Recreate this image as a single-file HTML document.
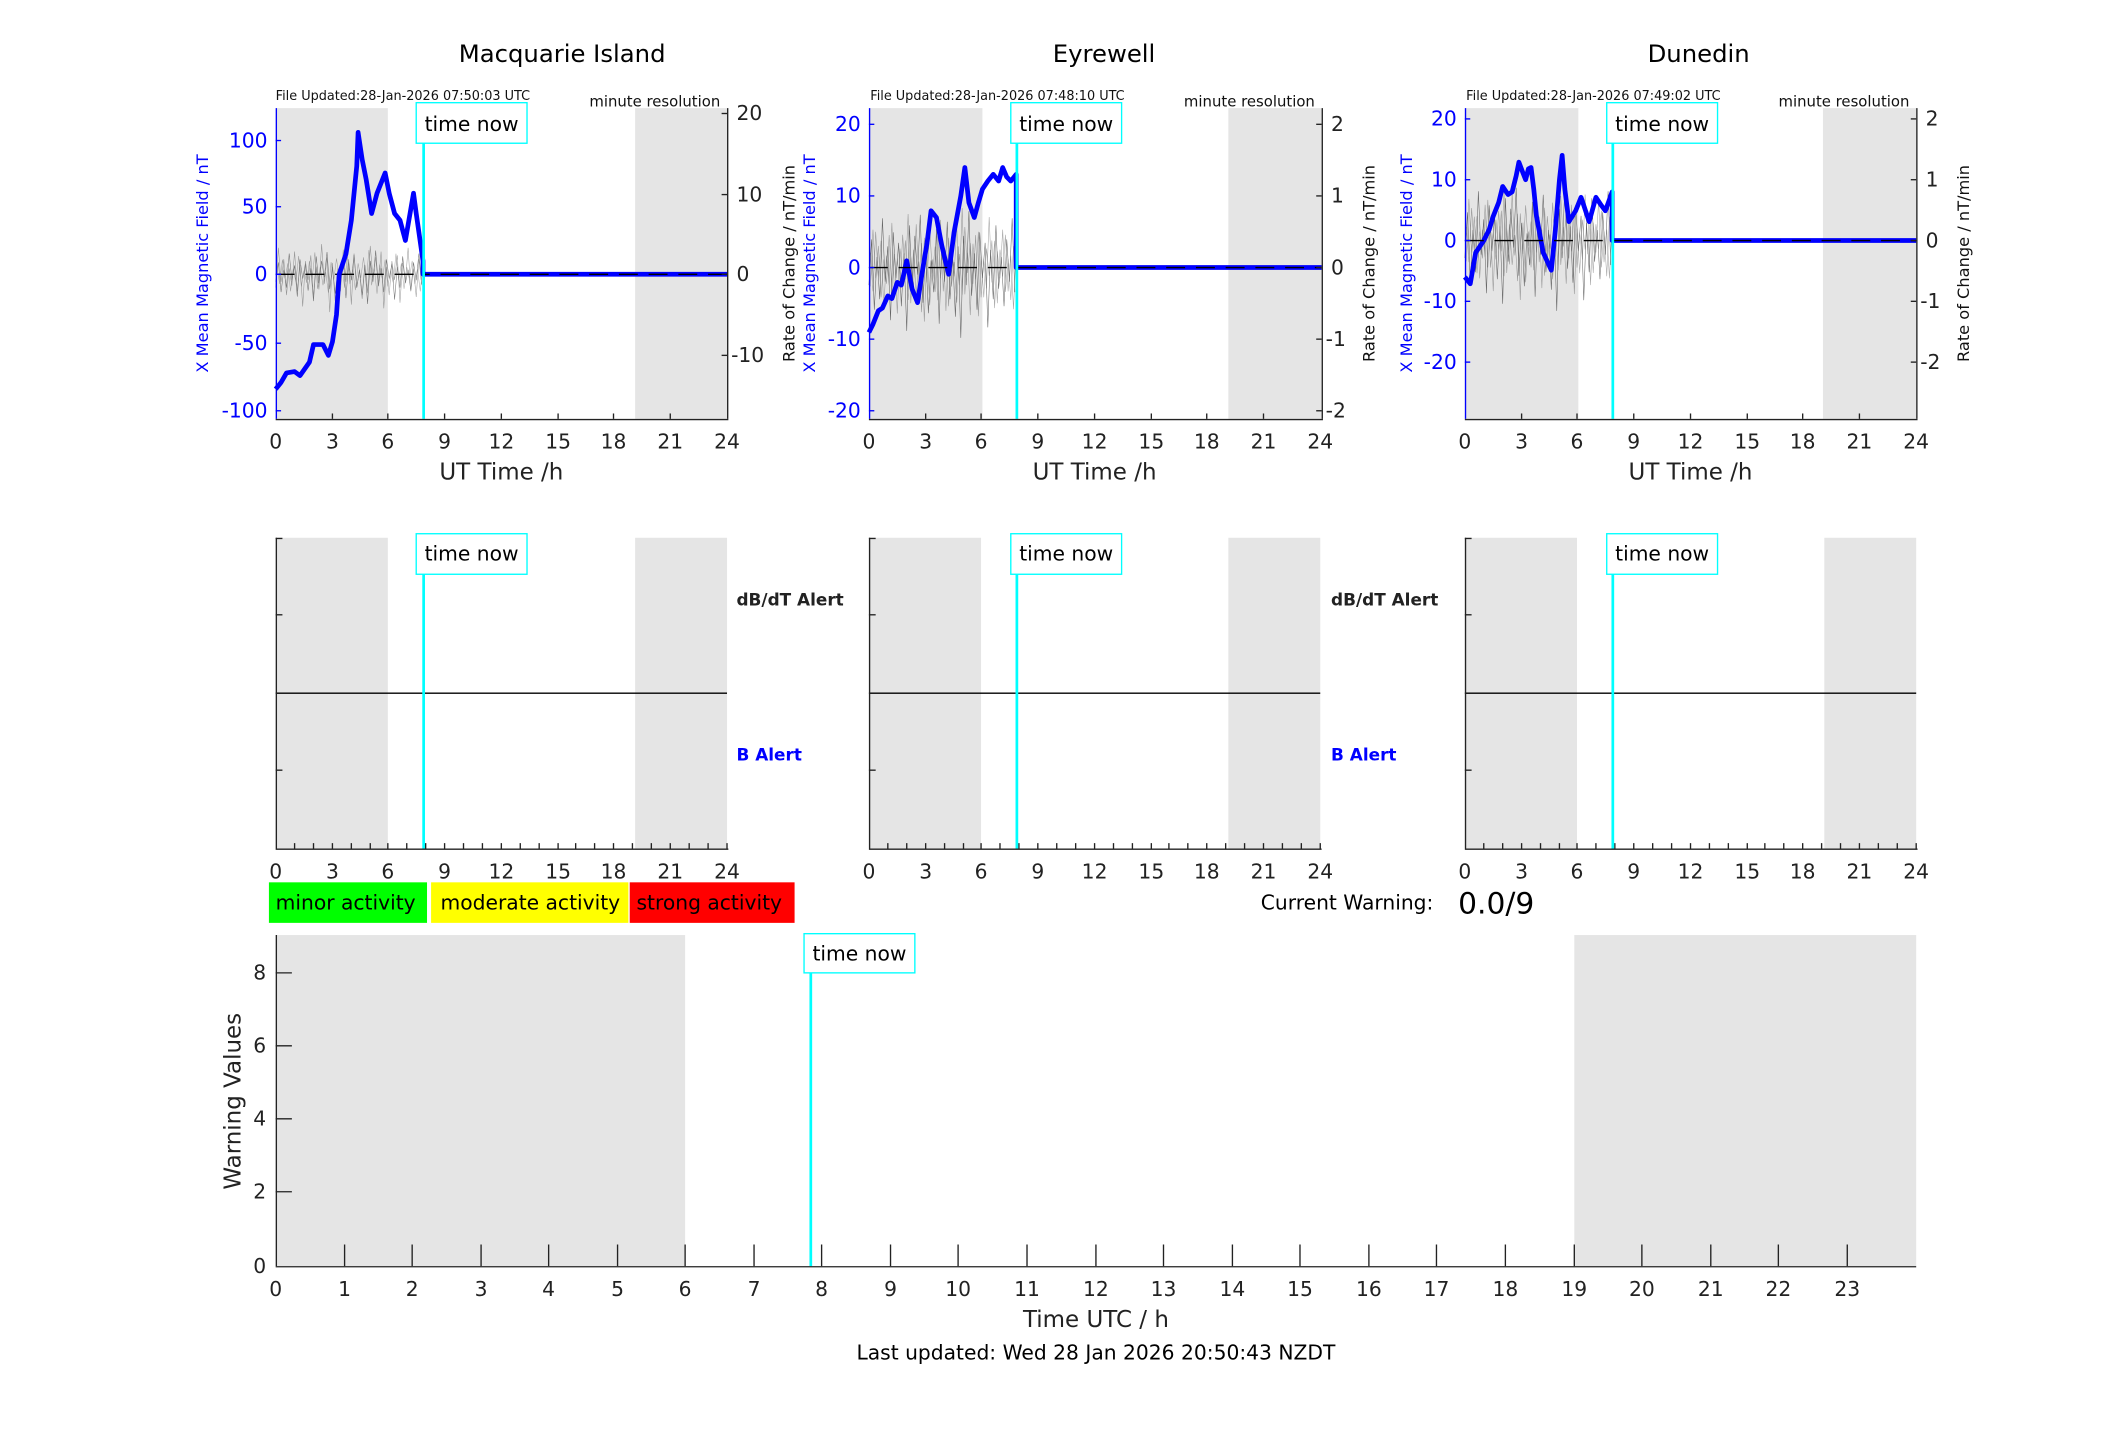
<!DOCTYPE html>
<html><head><meta charset="utf-8"><style>
html,body{margin:0;padding:0;background:#fff;}
svg{display:block;}
text{font-family:"DejaVu Sans","Liberation Sans",sans-serif;}
</style></head><body>
<svg width="2117" height="1437" viewBox="0 0 1566.6 1063.5" preserveAspectRatio="none" xmlns="http://www.w3.org/2000/svg">
<defs>
<polyline id="nz" fill="none" points="0,5 2,-8 4,12 6,-3 8,9 10,-14 12,4 14,-6 16,15 18,-10 20,3 22,-7 24,11 26,-4 28,18 30,-12 32,6 34,-9 36,2 38,-15 40,10 42,-5 44,13 46,-2 48,7 50,-11 52,16 54,-8 56,4 58,-13 60,9 62,-3 64,14 66,-6 68,20 70,-9 72,5 74,-16 76,8 78,-4 80,12 82,-10 84,3 86,-7 88,17 90,-5 92,9 94,-12 96,6 98,-3 100,11 102,-8 104,4 106,-14 108,7"/>
</defs>

<!-- Macquarie -->
<g>
<text x="416" y="46" font-size="18" text-anchor="middle">Macquarie Island</text>
<rect x="204" y="80" width="83" height="230" fill="#e5e5e5"/>
<rect x="470" y="80" width="68" height="230" fill="#e5e5e5"/>
<g stroke="#555" stroke-width="0.4" opacity="0.8"><use href="#nz" transform="translate(204,203) scale(1,1.1)"/><use href="#nz" transform="translate(312,203) scale(-1,1.4)" opacity="0.7"/><use href="#nz" transform="translate(205,203) scale(1,-0.9)" opacity="0.6"/></g>
<line x1="204" y1="203" x2="538" y2="203" stroke="#000" stroke-width="1" stroke-dasharray="14,8"/>
<polyline fill="none" stroke="#0000ff" stroke-width="3.5" stroke-linejoin="round" points="204,288 208,283 212,276 218,275 222,278 229,268 232,255 239,255 243,263 246,253 249,233 251,203 256,188 260,163 264,123 265,98 268,118 271,133 275,158 279,143 285,128 288,143 292,158 296,163 300,178 306,143 308,158 313,193 313,203 538,203"/>
<line x1="538" y1="203" x2="313" y2="203" stroke="#000" stroke-width="1" stroke-dasharray="14,8"/>
<line x1="313.5" y1="106" x2="313.5" y2="310" stroke="#00ffff" stroke-width="2"/>
<rect x="308" y="76" width="82" height="30" fill="#fff" stroke="#00ffff" stroke-width="1"/>
<text x="349" y="97" font-size="15" text-anchor="middle">time now</text>
<line x1="204.5" y1="80" x2="204.5" y2="310" stroke="#0000ff"/>
<line x1="538.5" y1="80" x2="538.5" y2="310" stroke="#222"/>
<line x1="204" y1="310.5" x2="539" y2="310.5" stroke="#222"/>
<g stroke="#0000ff"><line x1="204" y1="104" x2="208" y2="104"/><line x1="204" y1="153" x2="208" y2="153"/><line x1="204" y1="203" x2="208" y2="203"/><line x1="204" y1="254" x2="208" y2="254"/><line x1="204" y1="304" x2="208" y2="304"/></g>
<g fill="#0000ff" font-size="15" text-anchor="end"><text x="198" y="109">100</text><text x="198" y="158">50</text><text x="198" y="208">0</text><text x="198" y="259">-50</text><text x="198" y="309">-100</text></g>
<g stroke="#222"><line x1="534" y1="84" x2="538" y2="84"/><line x1="534" y1="144" x2="538" y2="144"/><line x1="534" y1="203" x2="538" y2="203"/><line x1="534" y1="263" x2="538" y2="263"/></g>
<g fill="#222" font-size="15"><text x="545" y="89">20</text><text x="545" y="149">10</text><text x="545" y="208">0</text><text x="541" y="268">-10</text></g>
</g>

<!-- Eyrewell -->
<g>
<text x="817" y="46" font-size="18" text-anchor="middle">Eyrewell</text>
<rect x="643" y="80" width="84" height="230" fill="#e5e5e5"/>
<rect x="909" y="80" width="69" height="230" fill="#e5e5e5"/>
<g stroke="#444" stroke-width="0.4" opacity="0.8"><use href="#nz" transform="translate(643,198) scale(1,2.6)"/><use href="#nz" transform="translate(752,198) scale(-1,2)" opacity="0.6"/><use href="#nz" transform="translate(644,198) scale(1,-2.2)" opacity="0.6"/></g>
<polyline fill="none" stroke="#0000ff" stroke-width="3.5" stroke-linejoin="round" points="643,246 646,240 650,230 653,228 657,219 660,221 664,209 667,211 671,193 675,214 679,224 683,198 686,180 689,156 693,161 697,182 702,203 706,172 711,145 714,124 717,150 721,161 724,150 727,140 731,134 735,129 739,134 742,124 745,131 748,134 752,129 752,198 978,198"/>
<line x1="643" y1="198" x2="978" y2="198" stroke="#000" stroke-width="1" stroke-dasharray="14,8"/>
<line x1="752.5" y1="106" x2="752.5" y2="310" stroke="#00ffff" stroke-width="2"/>
<rect x="748" y="76" width="82" height="30" fill="#fff" stroke="#00ffff" stroke-width="1"/>
<text x="789" y="97" font-size="15" text-anchor="middle">time now</text>
<line x1="643.5" y1="80" x2="643.5" y2="310" stroke="#0000ff"/>
<line x1="978.5" y1="80" x2="978.5" y2="310" stroke="#222"/>
<line x1="643" y1="310.5" x2="979" y2="310.5" stroke="#222"/>
<g stroke="#0000ff"><line x1="643" y1="92" x2="647" y2="92"/><line x1="643" y1="145" x2="647" y2="145"/><line x1="643" y1="198" x2="647" y2="198"/><line x1="643" y1="251" x2="647" y2="251"/><line x1="643" y1="304" x2="647" y2="304"/></g>
<g fill="#0000ff" font-size="15" text-anchor="end"><text x="637" y="97">20</text><text x="637" y="150">10</text><text x="637" y="203">0</text><text x="637" y="256">-10</text><text x="637" y="309">-20</text></g>
<g stroke="#222"><line x1="974" y1="92" x2="978" y2="92"/><line x1="974" y1="145" x2="978" y2="145"/><line x1="974" y1="198" x2="978" y2="198"/><line x1="974" y1="251" x2="978" y2="251"/><line x1="974" y1="304" x2="978" y2="304"/></g>
<g fill="#222" font-size="15"><text x="985" y="97">2</text><text x="985" y="150">1</text><text x="985" y="203">0</text><text x="981" y="256">-1</text><text x="981" y="309">-2</text></g>
</g>

<!-- Dunedin -->
<g>
<text x="1257" y="46" font-size="18" text-anchor="middle">Dunedin</text>
<rect x="1084" y="80" width="84" height="230" fill="#e5e5e5"/>
<rect x="1349" y="80" width="69" height="230" fill="#e5e5e5"/>
<g stroke="#444" stroke-width="0.4" opacity="0.8"><use href="#nz" transform="translate(1084,178) scale(1,2.6)"/><use href="#nz" transform="translate(1193,178) scale(-1,2.2)" opacity="0.6"/><use href="#nz" transform="translate(1085,178) scale(1,-2)" opacity="0.6"/></g>
<polyline fill="none" stroke="#0000ff" stroke-width="3.5" stroke-linejoin="round" points="1084,205 1088,210 1092,187 1098,178 1102,170 1105,160 1109,150 1112,138 1116,144 1119,142 1122,130 1124,120 1127,128 1129,133 1131,125 1133,124 1135,140 1137,160 1142,187 1148,200 1151,170 1154,133 1156,115 1158,140 1161,164 1166,156 1170,146 1173,155 1176,164 1181,146 1185,152 1188,156 1193,142 1193,178 1418,178"/>
<line x1="1084" y1="178" x2="1418" y2="178" stroke="#000" stroke-width="1" stroke-dasharray="14,8"/>
<line x1="1193.5" y1="106" x2="1193.5" y2="310" stroke="#00ffff" stroke-width="2"/>
<rect x="1189" y="76" width="82" height="30" fill="#fff" stroke="#00ffff" stroke-width="1"/>
<text x="1230" y="97" font-size="15" text-anchor="middle">time now</text>
<line x1="1084.5" y1="80" x2="1084.5" y2="310" stroke="#0000ff"/>
<line x1="1418.5" y1="80" x2="1418.5" y2="310" stroke="#222"/>
<line x1="1084" y1="310.5" x2="1419" y2="310.5" stroke="#222"/>
<g stroke="#0000ff"><line x1="1084" y1="88" x2="1088" y2="88"/><line x1="1084" y1="133" x2="1088" y2="133"/><line x1="1084" y1="178" x2="1088" y2="178"/><line x1="1084" y1="223" x2="1088" y2="223"/><line x1="1084" y1="268" x2="1088" y2="268"/></g>
<g fill="#0000ff" font-size="15" text-anchor="end"><text x="1078" y="93">20</text><text x="1078" y="138">10</text><text x="1078" y="183">0</text><text x="1078" y="228">-10</text><text x="1078" y="273">-20</text></g>
<g stroke="#222"><line x1="1414" y1="88" x2="1418" y2="88"/><line x1="1414" y1="133" x2="1418" y2="133"/><line x1="1414" y1="178" x2="1418" y2="178"/><line x1="1414" y1="223" x2="1418" y2="223"/><line x1="1414" y1="268" x2="1418" y2="268"/></g>
<g fill="#222" font-size="15"><text x="1425" y="93">2</text><text x="1425" y="138">1</text><text x="1425" y="183">0</text><text x="1421" y="228">-1</text><text x="1421" y="273">-2</text></g>
</g>

<g font-size="9.5" fill="#111"><text x="204" y="74">File Updated:28-Jan-2026 07:50:03 UTC</text><text x="644" y="74">File Updated:28-Jan-2026 07:48:10 UTC</text><text x="1085" y="74">File Updated:28-Jan-2026 07:49:02 UTC</text></g>
<g font-size="11" fill="#111" text-anchor="end"><text x="533" y="79">minute resolution</text><text x="973" y="79">minute resolution</text><text x="1413" y="79">minute resolution</text></g>
<g fill="#0000ff" font-size="12"><text transform="translate(154,195) rotate(-90)" text-anchor="middle">X Mean Magnetic Field / nT</text><text transform="translate(603,195) rotate(-90)" text-anchor="middle">X Mean Magnetic Field / nT</text><text transform="translate(1045,195) rotate(-90)" text-anchor="middle">X Mean Magnetic Field / nT</text></g>
<g fill="#111" font-size="12"><text transform="translate(588,195) rotate(-90)" text-anchor="middle">Rate of Change / nT/min</text><text transform="translate(1017,195) rotate(-90)" text-anchor="middle">Rate of Change / nT/min</text><text transform="translate(1457,195) rotate(-90)" text-anchor="middle">Rate of Change / nT/min</text></g>

<g id="xt" font-size="15" fill="#222" text-anchor="middle">
<g stroke="#222"><line x1="246" y1="310" x2="246" y2="306"/><line x1="287" y1="310" x2="287" y2="306"/><line x1="329" y1="310" x2="329" y2="306"/><line x1="371" y1="310" x2="371" y2="306"/><line x1="413" y1="310" x2="413" y2="306"/><line x1="454" y1="310" x2="454" y2="306"/><line x1="496" y1="310" x2="496" y2="306"/></g>
<text x="204" y="332">0</text><text x="246" y="332">3</text><text x="287" y="332">6</text><text x="329" y="332">9</text><text x="371" y="332">12</text><text x="413" y="332">15</text><text x="454" y="332">18</text><text x="496" y="332">21</text><text x="538" y="332">24</text>
<text x="371" y="355" font-size="17">UT Time /h</text>
</g>
<use href="#xt" x="439"/>
<use href="#xt" x="880"/>

<g id="mid">
<rect x="204" y="398" width="83" height="230" fill="#e5e5e5"/>
<rect x="470" y="398" width="68" height="230" fill="#e5e5e5"/>
<line x1="204" y1="513" x2="538" y2="513" stroke="#000" stroke-width="1"/>
<line x1="204.5" y1="398" x2="204.5" y2="628" stroke="#222"/>
<line x1="204" y1="628.5" x2="539" y2="628.5" stroke="#222"/>
<g stroke="#222"><line x1="204" y1="455" x2="209" y2="455"/><line x1="204" y1="570" x2="209" y2="570"/><line x1="204" y1="398.5" x2="209" y2="398.5"/>
<path d="M218 628v-4M232 628v-4M246 628v-4M260 628v-4M274 628v-4M287 628v-4M301 628v-4M315 628v-4M329 628v-4M343 628v-4M357 628v-4M371 628v-4M385 628v-4M399 628v-4M413 628v-4M426 628v-4M440 628v-4M454 628v-4M468 628v-4M482 628v-4M496 628v-4M510 628v-4M524 628v-4M538 628v-4"/></g>
<g font-size="15" fill="#222" text-anchor="middle"><text x="204" y="650">0</text><text x="246" y="650">3</text><text x="287" y="650">6</text><text x="329" y="650">9</text><text x="371" y="650">12</text><text x="413" y="650">15</text><text x="454" y="650">18</text><text x="496" y="650">21</text><text x="538" y="650">24</text></g>
</g>
<use href="#mid" x="439"/>
<use href="#mid" x="880"/>
<g stroke="#00ffff" stroke-width="2"><line x1="313.5" y1="425" x2="313.5" y2="628"/><line x1="752.5" y1="425" x2="752.5" y2="628"/><line x1="1193.5" y1="425" x2="1193.5" y2="628"/></g>
<g fill="#fff" stroke="#00ffff"><rect x="308" y="395" width="82" height="30"/><rect x="748" y="395" width="82" height="30"/><rect x="1189" y="395" width="82" height="30"/></g>
<g font-size="15" text-anchor="middle"><text x="349" y="415">time now</text><text x="789" y="415">time now</text><text x="1230" y="415">time now</text></g>
<g font-size="12.5" font-weight="bold" fill="#222"><text x="545" y="448">dB/dT Alert</text><text x="985" y="448">dB/dT Alert</text></g>
<g font-size="12.5" font-weight="bold" fill="#0000ff"><text x="545" y="563">B Alert</text><text x="985" y="563">B Alert</text></g>

<rect x="199" y="653" width="117" height="30" fill="#00ff00"/>
<rect x="319" y="653" width="146" height="30" fill="#ffff00"/>
<rect x="466" y="653" width="122" height="30" fill="#ff0000"/>
<g font-size="15"><text x="204" y="673">minor activity</text><text x="326" y="673">moderate activity</text><text x="471" y="673">strong activity</text></g>
<text x="933" y="673" font-size="15">Current Warning:</text>
<text x="1079" y="676" font-size="22">0.0/9</text>

<rect x="204" y="692" width="303" height="245" fill="#e5e5e5"/>
<rect x="1165" y="692" width="253" height="245" fill="#e5e5e5"/>
<line x1="600" y1="720" x2="600" y2="937" stroke="#00ffff" stroke-width="2"/>
<rect x="595" y="691" width="82" height="29" fill="#fff" stroke="#00ffff"/>
<text x="636" y="711" font-size="15" text-anchor="middle">time now</text>
<line x1="204.5" y1="692" x2="204.5" y2="937" stroke="#222"/>
<line x1="204" y1="937.5" x2="1418" y2="937.5" stroke="#222"/>
<g stroke="#222"><path d="M204 720h12M204 774h12M204 828h12M204 882h12"/>
<path d="M255 937v-16M305 937v-16M356 937v-16M406 937v-16M457 937v-16M507 937v-16M558 937v-16M608 937v-16M659 937v-16M709 937v-16M760 937v-16M811 937v-16M861 937v-16M912 937v-16M962 937v-16M1013 937v-16M1063 937v-16M1114 937v-16M1165 937v-16M1215 937v-16M1266 937v-16M1316 937v-16M1367 937v-16"/></g>
<g font-size="15" fill="#222" text-anchor="end"><text x="197" y="725">8</text><text x="197" y="779">6</text><text x="197" y="833">4</text><text x="197" y="887">2</text><text x="197" y="942">0</text></g>
<g font-size="15" fill="#222" text-anchor="middle"><text x="204" y="959">0</text><text x="255" y="959">1</text><text x="305" y="959">2</text><text x="356" y="959">3</text><text x="406" y="959">4</text><text x="457" y="959">5</text><text x="507" y="959">6</text><text x="558" y="959">7</text><text x="608" y="959">8</text><text x="659" y="959">9</text><text x="709" y="959">10</text><text x="760" y="959">11</text><text x="811" y="959">12</text><text x="861" y="959">13</text><text x="912" y="959">14</text><text x="962" y="959">15</text><text x="1013" y="959">16</text><text x="1063" y="959">17</text><text x="1114" y="959">18</text><text x="1165" y="959">19</text><text x="1215" y="959">20</text><text x="1266" y="959">21</text><text x="1316" y="959">22</text><text x="1367" y="959">23</text></g>
<text x="811" y="982" font-size="17" fill="#222" text-anchor="middle">Time UTC / h</text>
<text transform="translate(178,815) rotate(-90)" font-size="17" fill="#222" text-anchor="middle">Warning Values</text>
<text x="811" y="1006" font-size="15" text-anchor="middle">Last updated: Wed 28 Jan 2026 20:50:43 NZDT</text>
</svg>
</body></html>
